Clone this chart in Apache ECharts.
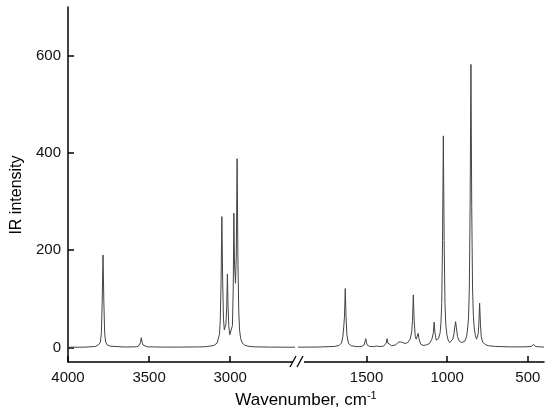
<!DOCTYPE html>
<html>
<head>
<meta charset="utf-8">
<script src="https://cdn.jsdelivr.net/npm/echarts@6/dist/echarts.min.js"></script>
<style>
html,body{margin:0;padding:0;background:#fff;}
#chart{width:550px;height:418px;}
</style>
</head>
<body>
<div id="chart"></div>
<script>
// High-wavenumber region (cm-1, IR intensity)
const highRegion = [
  [4000, 0.3], [3900, 0.5], [3830, 2], [3810, 6], [3800, 11], [3794, 30], [3789, 95],
  [3784, 190], [3779, 95], [3774, 30], [3768, 11], [3758, 5], [3740, 2.5],
  [3650, 0.8], [3580, 1.2], [3565, 2.5], [3558, 5], [3553, 10], [3548, 20],
  [3543, 10], [3538, 5], [3530, 2.5], [3510, 1.2], [3400, 0.6], [3300, 0.7],
  [3200, 1], [3150, 1.4], [3100, 4], [3080, 9], [3066, 27], [3061, 55], [3056, 135],
  [3051, 269], [3046, 135], [3041, 58], [3036, 36], [3032, 32], [3026, 48],
  [3021, 85], [3017, 151], [3013, 85], [3008, 42], [3002, 26], [2997, 22],
  [2992, 26], [2986, 45], [2981, 120], [2977, 276], [2973, 170], [2967, 132],
  [2962, 190], [2957, 388], [2952, 180], [2947, 75], [2942, 36], [2935, 18],
  [2925, 9], [2910, 4.5], [2890, 2.5], [2850, 1.2], [2750, 0.6], [2600, 0.4]
];
// Fingerprint region (cm-1, IR intensity)
const lowRegion = [
  [1925, 0.5], [1800, 0.8], [1700, 2], [1670, 4], [1655, 9], [1647, 22], [1642, 40],
  [1637, 62], [1632, 121], [1627, 62], [1622, 26], [1612, 8], [1595, 3.5],
  [1560, 1.5], [1530, 2], [1515, 5], [1510, 9], [1505, 18], [1500, 9], [1495, 4.5],
  [1480, 2], [1455, 1.5], [1445, 2.2], [1440, 3], [1435, 2.2], [1420, 1.8],
  [1395, 2.5], [1383, 5], [1378, 9], [1373, 18], [1368, 9], [1363, 5], [1345, 3.5],
  [1320, 5], [1310, 7], [1302, 11], [1297, 8], [1290, 8.5], [1284, 11], [1279, 15],
  [1274, 10], [1262, 8], [1245, 10], [1230, 17], [1220, 32], [1215, 56], [1210, 108],
  [1205, 56], [1198, 22], [1192, 17], [1185, 20], [1180, 29], [1175, 18], [1165, 7],
  [1150, 4], [1130, 5], [1110, 8], [1095, 17], [1086, 30], [1081, 52], [1076, 30],
  [1068, 15], [1060, 13], [1054, 18], [1044, 30], [1039, 50], [1034, 90], [1029, 220],
  [1024, 435], [1019, 220], [1014, 92], [1009, 48], [1002, 26], [994, 15], [985, 10],
  [975, 11], [965, 17], [958, 28], [953, 42], [948, 53], [943, 40], [936, 22],
  [925, 13], [910, 10], [900, 10], [890, 13], [880, 22], [873, 40], [868, 60],
  [863, 120], [858, 290], [853, 582], [848, 290], [843, 122], [838, 66], [832, 38],
  [825, 24], [818, 17], [813, 19], [808, 28], [804, 48], [799, 91], [794, 48],
  [789, 22], [780, 11], [765, 6], [745, 3.5], [700, 2], [600, 1], [520, 1.2],
  [480, 2], [470, 3.5], [465, 6], [460, 3.5], [450, 1.8], [420, 1], [400, 0.8]
];
const highTicks = [4000, 3500, 3000];
const lowTicks = [1500, 1000, 500];
const yTicks = [0, 200, 400, 600];

const chart = echarts.init(document.getElementById('chart'), null, {renderer: 'canvas'});
const font = 'Liberation Sans, Arial, sans-serif';
const axisCol = '#000';
const plain = v => String(v);
function xAxisCfg(idx, min, max, ticks) {
  return {
    type: 'value', gridIndex: idx, min: min, max: max, inverse: true,
    axisLine: {show: true, onZero: false, lineStyle: {color: axisCol, width: 1.5}},
    axisTick: {show: true, inside: true, length: 6, customValues: ticks, lineStyle: {color: axisCol, width: 1.5}},
    axisLabel: {show: true, customValues: ticks, formatter: plain, margin: 8, color: '#111', fontSize: 15, fontFamily: font},
    splitLine: {show: false}
  };
}
const option = {
  backgroundColor: '#fff',
  animation: false,
  grid: [
    {left: 68, right: 255, top: 7, bottom: 56},
    {left: 298, right: 6, top: 7, bottom: 56}
  ],
  xAxis: [
    xAxisCfg(0, 2600, 4000, highTicks),
    xAxisCfg(1, 400, 1925, lowTicks)
  ],
  yAxis: [
    {
      type: 'value', gridIndex: 0, min: -30, max: 700,
      axisLine: {show: true, onZero: false, lineStyle: {color: axisCol, width: 1.5}},
      axisTick: {show: true, inside: true, length: 6, customValues: yTicks, lineStyle: {color: axisCol, width: 1.5}},
      axisLabel: {show: true, customValues: yTicks, formatter: plain, margin: 7, color: '#111', fontSize: 15, fontFamily: font},
      splitLine: {show: false}
    },
    {type: 'value', gridIndex: 1, min: -30, max: 700, show: false, splitLine: {show: false}}
  ],
  series: [
    {type: 'line', xAxisIndex: 0, yAxisIndex: 0, data: highRegion, showSymbol: false,
     lineStyle: {color: '#444', width: 1}, clip: true},
    {type: 'line', xAxisIndex: 1, yAxisIndex: 1, data: lowRegion, showSymbol: false,
     lineStyle: {color: '#444', width: 1}, clip: true}
  ],
  graphic: [
    {type: 'rect', shape: {x: 293, y: 356, width: 11, height: 12}, style: {fill: '#fff'}, z: 100},
    {type: 'line', shape: {x1: 290, y1: 367, x2: 296, y2: 356}, style: {stroke: '#000', lineWidth: 1.3}, z: 101},
    {type: 'line', shape: {x1: 297, y1: 367, x2: 303, y2: 356}, style: {stroke: '#000', lineWidth: 1.3}, z: 101},
    {type: 'text', x: 306, y: 400, z: 101,
     style: {text: '{a|Wavenumber, cm}{b|-1}', align: 'center', verticalAlign: 'middle',
       rich: {
         a: {fontSize: 17, fontFamily: font, fill: '#000'},
         b: {fontSize: 11, fontFamily: font, fill: '#000', verticalAlign: 'top', padding: [0, 0, 8, 0]}
       }}},
    {type: 'text', x: 17, y: 195, rotation: Math.PI / 2, z: 101,
     style: {text: 'IR intensity', align: 'center', verticalAlign: 'middle', fontSize: 16, fontFamily: font, fill: '#000'}}
  ]
};
chart.setOption(option);
</script>
</body>
</html>
